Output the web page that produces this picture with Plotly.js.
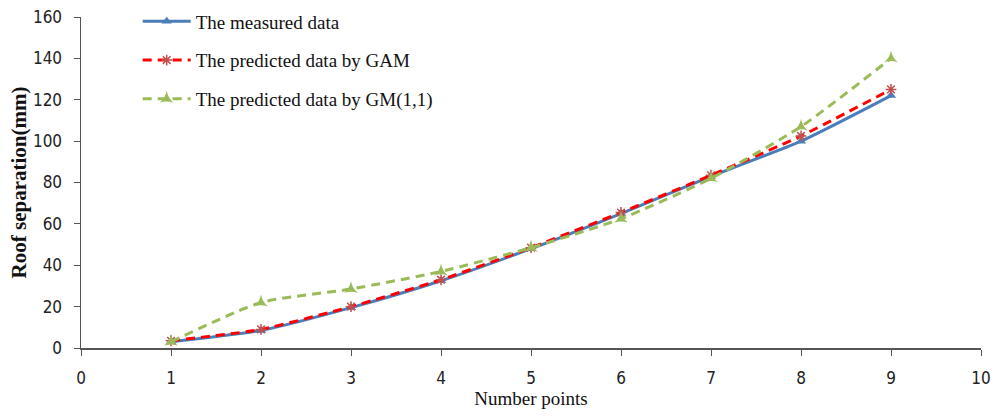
<!DOCTYPE html>
<html><head><meta charset="utf-8">
<script src="https://cdn.plot.ly/plotly-3.0.1.min.js"></script>
<style>body{margin:0;background:#fff}#c{width:1005px;height:417px}</style>
</head><body><div id="c"></div>
<script>
const points = [1, 2, 3, 4, 5, 6, 7, 8, 9];
const measured = [3, 8.5, 19.5, 32.5, 48, 65, 83, 100, 122];
const gam = [3.5, 9, 20, 33, 48.5, 65.5, 83.5, 102.5, 125];
const gm11 = [3, 22, 28.5, 37, 48.5, 62.5, 82, 107, 140];
const names = ['The measured data', 'The predicted data by GAM', 'The predicted data by GM(1,1)'];
const xTicks = [0,1,2,3,4,5,6,7,8,9,10];
const yTicks = [0,20,40,60,80,100,120,140,160];

const traces = [
  {x: points, y: measured, name: names[0], mode: 'lines+markers', legendgroup: 'a',
   line: {color: '#4a7ebb', width: 3, shape: 'spline', smoothing: 0.6},
   marker: {symbol: 'triangle-up', size: 9, color: '#4a7ebb'}},
  {x: points, y: gam, name: names[1], mode: 'lines+markers', legendgroup: 'b',
   line: {color: '#ff0000', width: 3, dash: '9px,6px', shape: 'spline', smoothing: 0.6},
   marker: {symbol: 'asterisk-open', size: 9, color: '#c0504d', line: {color: '#c0504d', width: 1.5}}},
  {x: points, y: gm11, name: names[2], mode: 'lines+markers', legendgroup: 'c',
   line: {color: '#9bbb59', width: 3, dash: '9px,6px', shape: 'spline', smoothing: 0.6},
   marker: {symbol: 'star-triangle-up', size: 10, color: '#9bbb59'}}
];

const tickFont = {family: '"Liberation Sans Narrow", "DejaVu Sans Condensed", sans-serif', size: 17, color: '#222'};
const serif = '"Liberation Serif", "Times New Roman", serif';
const layout = {
  width: 1005, height: 417,
  margin: {l: 81, r: 24, t: 17, b: 69, autoexpand: false},
  paper_bgcolor: '#fff', plot_bgcolor: '#fff',
  showlegend: true,
  legend: {x: 0.063, y: 0.994, yref: 'container', xanchor: 'left', yanchor: 'top', tracegroupgap: 11, itemwidth: 48,
    font: {family: serif, size: 19, color: '#111'},
    bgcolor: 'rgba(0,0,0,0)'},
  xaxis: {range: [0, 10], tickvals: xTicks, ticktext: xTicks.map(String), showgrid: false, zeroline: false,
    automargin: false,
    showline: true, linecolor: '#555', linewidth: 1.5, ticks: 'outside', ticklen: 6, tickcolor: '#555',
    tickfont: tickFont, ticklabelstandoff: 8,
    title: {text: 'Number points', standoff: 2, font: {family: serif, size: 19, color: '#111'}}},
  yaxis: {range: [0, 160], tickvals: yTicks, ticktext: yTicks.map(String), showgrid: false, zeroline: false,
    automargin: true,
    showline: true, linecolor: '#555', linewidth: 1.5, ticks: 'outside', ticklen: 6, tickcolor: '#555',
    tickfont: tickFont, ticklabelstandoff: 8,
    title: {text: '<b>Roof separation(mm)</b>', standoff: 0, font: {family: serif, size: 21, color: '#111'}}}
};
Plotly.newPlot('c', traces, layout, {displayModeBar: false, staticPlot: true});
</script></body></html>
